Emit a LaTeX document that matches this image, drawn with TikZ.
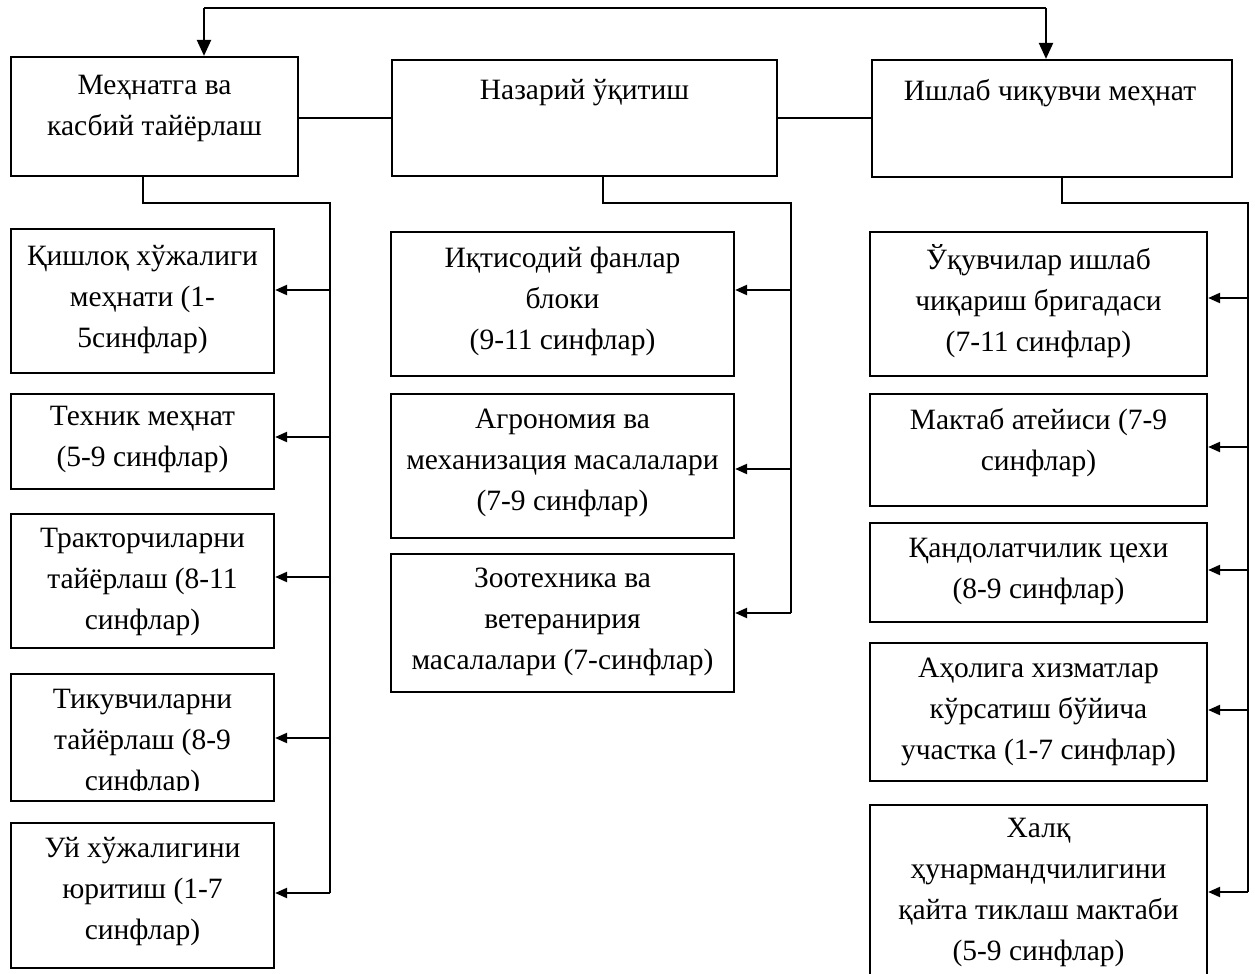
\documentclass[tikz,border=0pt]{standalone}
\usepackage{fontspec}
\setmainfont{Liberation Serif}
\usetikzlibrary{arrows.meta}
\begin{document}
\begin{tikzpicture}[x=0.5pt,y=-0.5pt,
  bx/.style={draw,line width=1.1pt,inner sep=0pt},
  tx/.style={align=center,font=\fontsize{14.75}{20.5}\selectfont,inner sep=0pt},
  ln/.style={line width=1.1pt},
  bigarr/.style={line width=1.1pt,-{Triangle[length=8pt,width=7pt]}},
  smarr/.style={line width=1.1pt,-{Triangle[length=6pt,width=5pt]}}]
\clip (0,0) rectangle (1255,974);
% top boxes
\node[bx,minimum width=143.5pt,minimum height=59.5pt] (B1) at (154.5,116.5) {};
\node[bx,minimum width=192.5pt,minimum height=58pt] (B2) at (584.5,118) {};
\node[bx,minimum width=180pt,minimum height=58.5pt] (B3) at (1052,118.5) {};
\node[tx] (tB1) at (154.5,108) {Меҳнатга ва\\касбий тайёрлаш};
\node[tx] (tB2) at (584.5,93) {Назарий ўқитиш};
\node[tx] (tB3) at (1050,93) {Ишлаб чиқувчи меҳнат};
% left column
\node[bx,minimum width=131.5pt,minimum height=72pt] (L1) at (142.5,301) {};
\node[bx,minimum width=131.5pt,minimum height=47.5pt] (L2) at (142.5,441.5) {};
\node[bx,minimum width=131.5pt,minimum height=67pt] (L3) at (142.5,581) {};
\node[bx,minimum width=131.5pt,minimum height=63.5pt] (L4) at (142.5,737.5) {};
\node[bx,minimum width=131.5pt,minimum height=72.5pt] (L5) at (142.5,895.5) {};
\node[tx] (tL1) at (142.5,300) {Қишлоқ хўжалиги\\меҳнати (1-\\5синфлар)};
\node[tx] (tL2) at (142.5,439) {Техник меҳнат\\(5-9 синфлар)};
\node[tx] (tL3) at (142.5,582) {Тракторчиларни\\тайёрлаш (8-11\\синфлар)};
\begin{scope}
\clip (0,674) rectangle (300,790);
\node[tx] (tL4) at (142.5,743) {Тикувчиларни\\тайёрлаш (8-9\\синфлар)};
\end{scope}
\node[tx] (tL5) at (142.5,892) {Уй хўжалигини\\юритиш (1-7\\синфлар)};
% middle column
\node[bx,minimum width=171.5pt,minimum height=72pt] (M1) at (562.5,304) {};
\node[bx,minimum width=171.5pt,minimum height=72pt] (M2) at (562.5,466) {};
\node[bx,minimum width=171.5pt,minimum height=69pt] (M3) at (562.5,623) {};
\node[tx] (tM1) at (562.5,301) {Иқтисодий фанлар\\блоки\\(9-11 синфлар)};
\node[tx] (tM2) at (562.5,463) {Агрономия ва\\механизация масалалари\\(7-9 синфлар)};
\node[tx] (tM3) at (562.5,622) {Зоотехника ва\\ветеранирия\\масалалари (7-синфлар)};
% right column
\node[bx,minimum width=168.5pt,minimum height=72pt] (R1) at (1038.5,304) {};
\node[bx,minimum width=168.5pt,minimum height=56pt] (R2) at (1038.5,450) {};
\node[bx,minimum width=168.5pt,minimum height=49.5pt] (R3) at (1038.5,572.5) {};
\node[bx,minimum width=168.5pt,minimum height=69pt] (R4) at (1038.5,712) {};
\node[bx,minimum width=168.5pt,minimum height=97.5pt] (R5) at (1038.5,902.5) {};
\node[tx] (tR1) at (1038.5,301) {Ўқувчилар ишлаб\\чиқариш бригадаси\\(7-11 синфлар)};
\node[tx] (tR2) at (1038.5,443) {Мактаб атейиси (7-9\\синфлар)};
\node[tx] (tR3) at (1038.5,571.5) {Қандолатчилик цехи\\(8-9 синфлар)};
\node[tx] (tR4) at (1038.5,712) {Аҳолига хизматлар\\кўрсатиш бўйича\\участка (1-7 синфлар)};
\node[tx] (tR5) at (1038.5,892) {Халқ\\ҳунармандчилигини\\қайта тиклаш мактаби\\(5-9 синфлар)};
% top connectors
\coordinate (top1) at (204,8);
\coordinate (top2) at (1046,8);
\coordinate (mid) at (584.5,118);
\draw[ln] (top1) -- (top2);
\draw[bigarr] (top1) -- (top1 |- B1.north);
\draw[bigarr] (top2) -- (top2 |- B3.north);
\draw[ln] (mid -| B1.east) -- (mid -| B2.west);
\draw[ln] (mid -| B2.east) -- (mid -| B3.west);
% left bus
\coordinate (lbus) at (330,203);
\coordinate (lb1) at (330,290);
\coordinate (lb2) at (330,437);
\coordinate (lb3) at (330,577);
\coordinate (lb4) at (330,738);
\coordinate (lb5) at (330,893);
\draw[ln] ([xshift=-5.75pt]B1.south) |- (lbus) -- (lb5);
\foreach \i in {1,...,5} {\draw[smarr] (lb\i) -- (lb\i -| L\i.east);}
% middle bus
\coordinate (mbus) at (791,203);
\coordinate (mb1) at (791,290);
\coordinate (mb2) at (791,469);
\coordinate (mb3) at (791,613);
\draw[ln] ([xshift=9.25pt]B2.south) |- (mbus) -- (mb3);
\foreach \i in {1,2,3} {\draw[smarr] (mb\i) -- (mb\i -| M\i.east);}
% right bus
\coordinate (rbus) at (1248,203);
\coordinate (rb1) at (1248,298);
\coordinate (rb2) at (1248,447);
\coordinate (rb3) at (1248,570);
\coordinate (rb4) at (1248,710);
\coordinate (rb5) at (1248,892);
\draw[ln] ([xshift=5pt]B3.south) |- (rbus) -- (rb5);
\foreach \i in {1,...,5} {\draw[smarr] (rb\i) -- (rb\i -| R\i.east);}
\end{tikzpicture}
\end{document}
